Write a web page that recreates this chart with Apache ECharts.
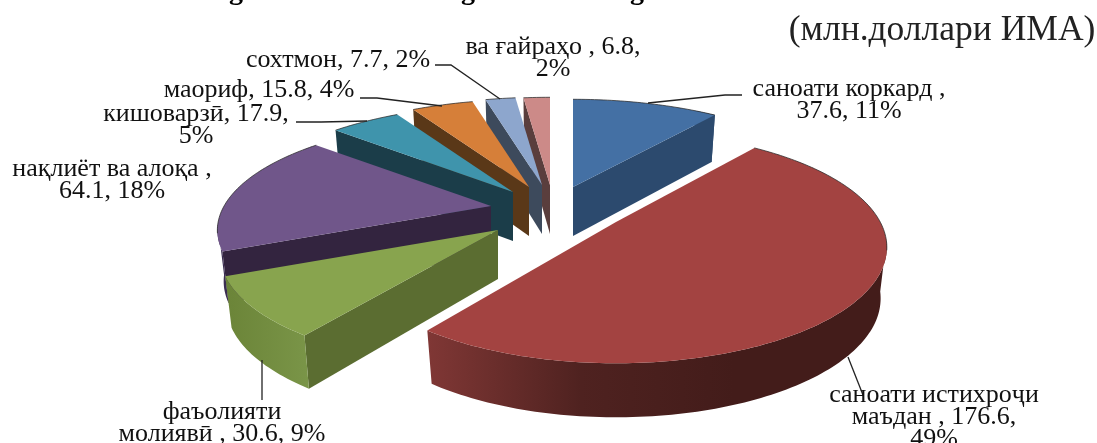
<!DOCTYPE html>
<html><head><meta charset="utf-8">
<script src="https://cdn.jsdelivr.net/npm/echarts@6/dist/echarts.min.js"></script>
<style>html,body{margin:0;padding:0;background:#fff}#c{width:1097px;height:443px}</style>
</head><body><div id="c"></div>
<script>
// ---- data (clockwise from 12 o'clock) ----
var categories = ['саноати коркард','саноати истихроҷи маъдан','фаъолияти молиявӣ','нақлиёт ва алоқа','кишоварзӣ','маориф','сохтмон','ва ғайраҳо'];
var values     = [37.6,176.6,30.6,64.1,17.9,15.8,7.7,6.8];
var labelTexts = ['саноати коркард ,\n37.6, 11%','саноати истихроҷи\nмаъдан , 176.6,\n49%','фаъолияти\nмолиявӣ , 30.6, 9%','нақлиёт ва алоқа ,\n64.1, 18%','кишоварзӣ, 17.9,\n5%','маориф, 15.8, 4%','сохтмон, 7.7, 2%','ва ғайраҳо , 6.8,\n2%'];
var unitText   = '(млн.доллари ИМА)';
var titleGlyphs = ['g','g','g'];
// ---- styles / layout ----
var topColors  = ['#4470a4','#a34341','#88a44e','#70568a','#3f94ac','#d67f39','#8da6cd','#cc8a88'];
var sideColors = ['#2c4a6e','#5e2826','#5b6d31','#33243f','#1b3d49','#5a3818','#3d4a5c','#5a3e3d'];
var wallStops  = [
  ['#2c4a6e','#2c4a6e'],['#803735','#4f2220','#431c1a','#431c1a'],['#6b8438','#7a9548'],['#3b2d52','#3b2d52'],
  ['#1b3d49','#1b3d49'],['#5a3818','#5a3818'],['#3d4a5c','#3d4a5c'],['#5a3e3d','#5a3e3d']];
var apexes     = [[573,187],[616,222],[498,230],[491,206],[513,192],[529,187],[542,185],[550,185]];
var sliceScale = [[1,1],[0.975,1.03],[1,1],[0.985,0.985],[1,1],[1,1],[1,1],[1,1]];
var drawOrder  = [7,6,5,4,3,2,0,1];
var labelPos   = [[849,100],[934,417],[222,423],[112,180],[196,125],[259,90],[338,60],[553,58]];
var leaders    = [
  [[742,95],[725,95],[648,103]],[[848,357],[863,395]],[[262,360],[262,400]],null,
  [[296,122],[321,122],[367,121]],[[360,98],[377,98],[442,106]],[[435,65],[451,65],[500,99]],null];
var titleGlyphX = [236,468,637];
var persp = {A:271,B:107,k:0.22,bottomScale:0.977};

var total = values.reduce(function(a,b){return a+b;},0);
var starts = [], acc = 0;
values.forEach(function(v){starts.push(acc/total*Math.PI*2);acc+=v;});
function proj(a){var u=Math.sin(a),v=-Math.cos(a),w=1-persp.k*v;return [persp.A*u/w,persp.B*v/w,v];}
function depth(v){return 50+4*v;}

function renderItem(params,api){
  var i = api.value(0), c = apexes[i], sc = sliceScale[i];
  var s = starts[i], e = s + api.value(1)/total*Math.PI*2;
  var kids = [], N = Math.max(4,Math.ceil((e-s)/0.02)), arc = [], top=[c.slice()];
  for(var n=0;n<=N;n++){var p=proj(s+(e-s)*n/N);arc.push({x:c[0]+p[0]*sc[0],y:c[1]+p[1]*sc[1],v:p[2]});top.push([c[0]+p[0]*sc[0],c[1]+p[1]*sc[1]]);}
  var d0=depth(0);
  function lower(q){return [c[0]+(q.x-c[0])*persp.bottomScale,q.y+depth(q.v)];}
  function cut(pt){return {type:'polygon',shape:{points:[[c[0],c[1]],[pt.x,pt.y],lower(pt),[c[0],c[1]+d0-1]]},style:{fill:sideColors[i]}};}
  // cut faces that look towards the viewer
  if(Math.sin(s)<-1e-6) kids.push(cut(arc[0]));
  if(Math.sin(e)>1e-6)  kids.push(cut(arc[N]));
  // outer wall
  var vis = arc.filter(function(q){return q.v>0.15;});
  if(i===0) vis = arc.filter(function(q){return q.v>-0.85;});
  if(vis.length>1){
    var wall = vis.map(function(q){return [q.x,q.y];}), back = vis.slice().reverse().map(lower);
    var st = wallStops[i], stops = st.map(function(col,j){return {offset:j/(st.length-1),color:col};});
    kids.push({type:'polygon',shape:{points:wall.concat(back)},style:{fill:new echarts.graphic.LinearGradient(0,0,1,0,stops)}});
  }
  // top face
  kids.push({type:'polygon',shape:{points:top},style:{fill:topColors[i]}});
  // thin dark rim on the far edge
  var rim = arc.filter(function(q){return q.v<0.25;}).map(function(q){return [q.x,q.y];});
  if(rim.length>1) kids.push({type:'polyline',shape:{points:rim},style:{stroke:'#2a2a2a',lineWidth:1,fill:null,opacity:0.75}});
  return {type:'group',children:kids};
}

var FONT = '"Liberation Serif","DejaVu Serif",serif';
var graphics = [];
labelTexts.forEach(function(t,i){
  graphics.push({type:'text',z:20,style:{x:labelPos[i][0],y:labelPos[i][1],text:t,align:'center',verticalAlign:'middle',font:'26px '+FONT,lineHeight:22,fill:'#111'}});
  if(leaders[i]) graphics.push({type:'polyline',z:19,shape:{points:leaders[i]},style:{stroke:'#222',lineWidth:1.3,fill:null}});
});
graphics.push({type:'text',z:20,style:{x:942,y:31,text:unitText,align:'center',verticalAlign:'middle',font:'35.5px '+FONT,fill:'#222'}});
titleGlyphs.forEach(function(g,i){
  graphics.push({type:'text',z:20,style:{x:titleGlyphX[i],y:-8,text:g,align:'center',verticalAlign:'middle',font:'bold 28px '+FONT,fill:'#000'}});
});

var chart = echarts.init(document.getElementById('c'));
chart.setOption({
  animation:false,
  backgroundColor:'#fff',
  graphic:graphics,
  series:[{type:'custom',coordinateSystem:'none',renderItem:renderItem,silent:true,clip:false,
    data:drawOrder.map(function(i){return {name:categories[i],value:[i,values[i]]};})}]
});
</script></body></html>
